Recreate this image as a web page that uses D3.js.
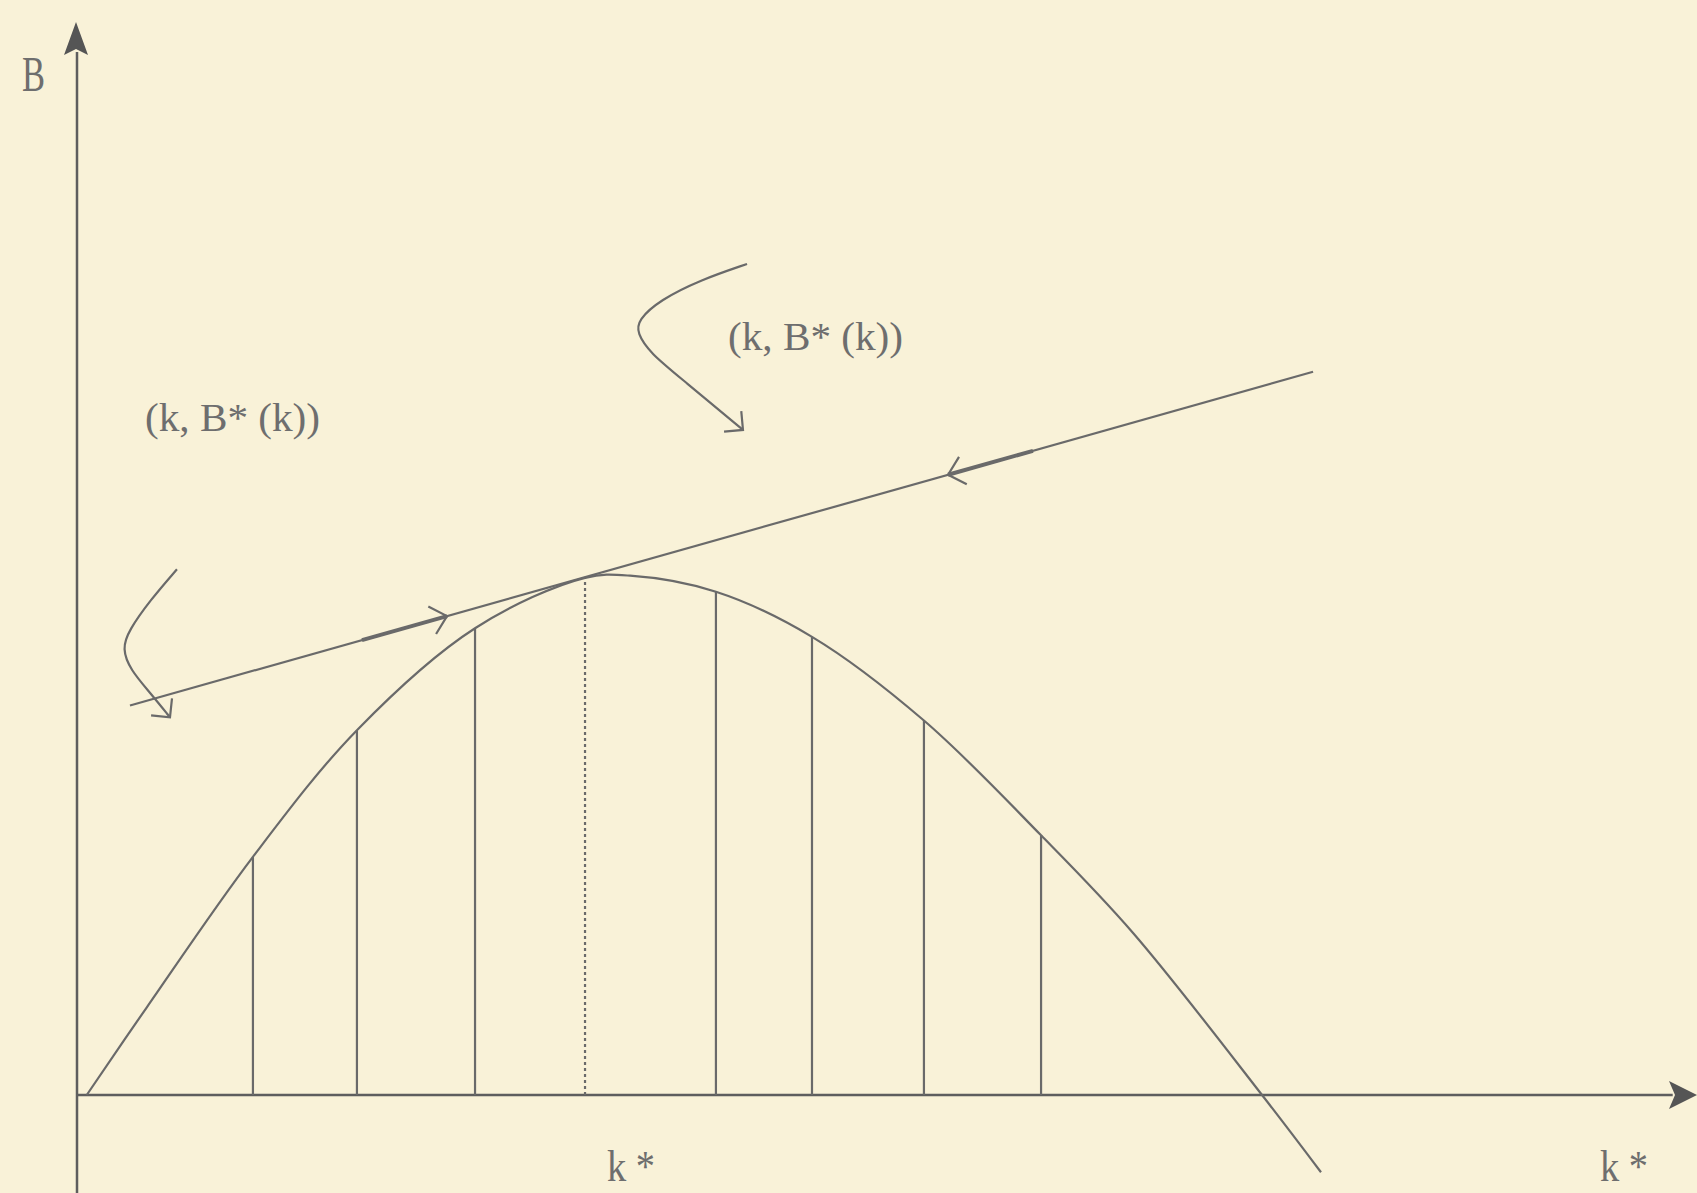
<!DOCTYPE html>
<html>
<head>
<meta charset="utf-8">
<script src="https://cdn.jsdelivr.net/npm/d3@7"></script>
<style>
  html, body { margin: 0; padding: 0; background: #f9f2d8; }
  svg { display: block; }
</style>
</head>
<body>
<div id="chart"></div>
<script>
// Curve B(k) (k and B in arbitrary 0-100 units)
const curveK = [0.6, 4.32, 10.86, 17.28, 24.57, 31.36, 34.14, 39.44, 45.37, 52.28, 59.51, 65.19, 73.15, 76.79]
const curveB = [0, 8.2, 22.2, 34.0, 43.5, 48.2, 48.4, 46.9, 42.7, 34.9, 24.2, 15.1, 0, -7.2]

// Vertical strips under the curve (the one at k* is dotted)
const stripK = [10.86, 17.28, 24.57, 31.36, 39.44, 45.37, 52.28, 59.51]
const dottedK = 31.36

// Tangent line through (k*, B*)
const tangentK = [3.27, 76.3]
const tangentB = [36.3, 67.4]

// Direction arrows on the tangent line: [tail k, tip k]
const flowArrows = [[17.59, 22.84], [59.01, 53.77]]

// Curved pointer arrows, as [k, B] points from start to tip
const hookLeft = [[6.17, 49.0], [4.51, 46.1], [3.2, 43.3], [2.78, 41.6], [3.3, 39.6], [4.51, 37.5], [5.74, 35.2]]
const hookUpper = [[41.36, 77.45], [38.46, 75.95], [35.99, 74.09], [34.63, 72.23], [34.57, 71.01], [35.37, 69.15], [37.41, 66.64], [41.11, 61.98]]

// Text labels: [text, k, B, width in px]
const labels = [
    ["B", -3.4, 93.6, 23],
    ["(k, B* (k))", 40.19, 69.43, 175],
    ["(k, B* (k))", 4.20, 61.88, 175],
    ["k *", 32.72, -8.0, 48],
    ["k *", 94.01, -8.0, 48]
]

const WIDTH = 1697
const HEIGHT = 1193
const INK = "#6a6a6a"

const x = d3.scaleLinear().domain([0, 100]).range([77, 1697])
const y = d3.scaleLinear().domain([0, 100]).range([1095, 22])

const svg = d3.select("#chart").append("svg")
    .attr("width", WIDTH)
    .attr("height", HEIGHT)

svg.append("rect")
    .attr("width", WIDTH)
    .attr("height", HEIGHT)
    .attr("fill", "#f9f2d8")

const curveData = curveK.map((k, i) => ({k: k, b: curveB[i]}))

// Axes
svg.append("line")
    .attr("x1", x(0)).attr("y1", y(97.2))
    .attr("x2", x(0)).attr("y2", y(y.invert(HEIGHT)))
    .attr("stroke", "#5e5e5e").attr("stroke-width", 2.5)

svg.append("line")
    .attr("x1", x(0)).attr("y1", y(0))
    .attr("x2", x(98.5)).attr("y2", y(0))
    .attr("stroke", "#5e5e5e").attr("stroke-width", 2.5)

// Axis arrow heads
let tx = x(0) - 1, ty = y(100)
svg.append("path")
    .attr("d", `M${tx},${ty} L${tx - 12},${ty + 33} L${tx},${ty + 27} L${tx + 12},${ty + 33} Z`)
    .attr("fill", "#555")

tx = x(100); ty = y(0)
svg.append("path")
    .attr("d", `M${tx},${ty} L${tx - 28},${ty - 14} L${tx - 22},${ty} L${tx - 28},${ty + 14} Z`)
    .attr("fill", "#555")

// Vertical strips
stripK.forEach(k => {
    let top = curveData.find(d => d.k === k).b
    svg.append("line")
        .attr("x1", x(k)).attr("y1", y(0))
        .attr("x2", x(k)).attr("y2", y(top))
        .attr("stroke", INK)
        .attr("stroke-width", 2.2)
        .attr("stroke-dasharray", k === dottedK ? "3,3" : null)
})

// Curve
const line = d3.line()
    .x(d => x(d.k))
    .y(d => y(d.b))
    .curve(d3.curveCatmullRom.alpha(0.5))

svg.append("path")
    .datum(curveData)
    .attr("d", line)
    .attr("fill", "none")
    .attr("stroke", INK)
    .attr("stroke-width", 2.2)

// Tangent line
svg.append("line")
    .attr("x1", x(tangentK[0])).attr("y1", y(tangentB[0]))
    .attr("x2", x(tangentK[1])).attr("y2", y(tangentB[1]))
    .attr("stroke", INK)
    .attr("stroke-width", 2.2)

function tangentAt(k) {
    return tangentB[0] + (k - tangentK[0]) / (tangentK[1] - tangentK[0]) * (tangentB[1] - tangentB[0])
}

// Draw two barbs at a tip, pointing along angle (radians, screen coords)
function barbs(px, py, angle, len, spread) {
    let back = angle + Math.PI
    let a1 = back - spread, a2 = back + spread
    svg.append("path")
        .attr("d", `M${px + len * Math.cos(a1)},${py + len * Math.sin(a1)} L${px},${py} L${px + len * Math.cos(a2)},${py + len * Math.sin(a2)}`)
        .attr("fill", "none")
        .attr("stroke", INK)
        .attr("stroke-width", 2.2)
}

flowArrows.forEach(([k0, k1]) => {
    let x0 = x(k0), y0 = y(tangentAt(k0))
    let x1 = x(k1), y1 = y(tangentAt(k1))
    svg.append("line")
        .attr("x1", x0).attr("y1", y0)
        .attr("x2", x1).attr("y2", y1)
        .attr("stroke", INK)
        .attr("stroke-width", 4)
    barbs(x1, y1, Math.atan2(y1 - y0, x1 - x0), 21, Math.PI / 4.2)
})

// Curved pointer arrows
const hookLine = d3.line()
    .x(d => x(d[0]))
    .y(d => y(d[1]))
    .curve(d3.curveBasis)

;[hookLeft, hookUpper].forEach(pts => {
    svg.append("path")
        .attr("d", hookLine(pts))
        .attr("fill", "none")
        .attr("stroke", INK)
        .attr("stroke-width", 2.2)
    let a = pts[pts.length - 2], b = pts[pts.length - 1]
    let ang = Math.atan2(y(b[1]) - y(a[1]), x(b[0]) - x(a[0]))
    barbs(x(b[0]), y(b[1]), ang, 19, Math.PI / 4)
})

// Labels
svg.selectAll("text.label")
    .data(labels)
    .enter()
    .append("text")
    .attr("class", "label")
    .attr("x", d => x(d[1]))
    .attr("y", d => y(d[2]))
    .attr("textLength", d => d[3])
    .attr("lengthAdjust", "spacingAndGlyphs")
    .style("font-family", "'Liberation Serif', 'DejaVu Serif', serif")
    .style("font-size", d => d[0] === "(k, B* (k))" ? "41px" : (d[0] === "B" ? "50px" : "45px"))
    .style("fill", "#6e6e6e")
    .text(d => d[0])
</script>
</body>
</html>
